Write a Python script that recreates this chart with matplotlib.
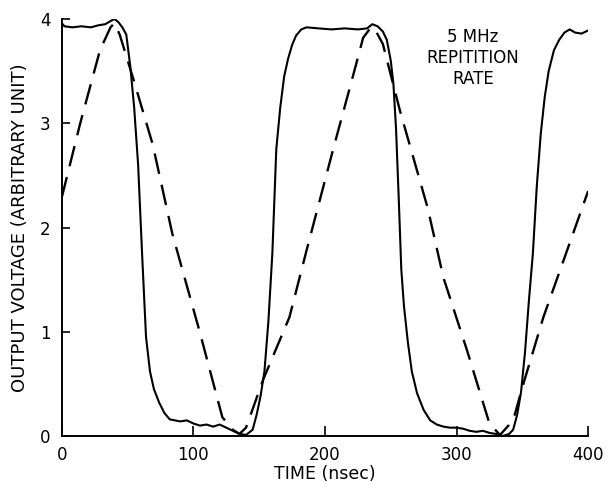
import matplotlib
matplotlib.use("Agg")
import matplotlib.pyplot as plt

plt.rcParams['lines.scale_dashes'] = False

# Solid curve (output voltage)
solid_t = [0, 2, 8, 15, 22, 28, 33, 37, 40, 43, 46, 49, 52, 55, 58, 61, 64, 67, 70, 74,
           78, 82, 86, 90, 95, 100, 105, 110, 115, 120, 125, 130, 135, 140, 145, 148, 151,
           154, 157, 160, 163, 166, 169, 172, 175, 178, 182, 186, 195, 205, 215, 225, 232,
           236, 240, 244, 247, 250, 252, 254, 256, 258, 260, 263, 266, 270, 275, 280, 285,
           290, 295, 300, 305, 310, 315, 320, 325, 330, 335, 340, 343, 346, 349, 352, 355,
           358, 361, 364, 367, 370, 374, 378, 382, 386, 390, 395, 400]
solid_v = [3.96, 3.93, 3.92, 3.93, 3.92, 3.94, 3.95, 3.98, 4.00, 3.97, 3.92, 3.85, 3.55,
           3.15, 2.60, 1.75, 0.95, 0.62, 0.45, 0.32, 0.22, 0.16, 0.15, 0.14, 0.15, 0.12,
           0.10, 0.11, 0.09, 0.11, 0.08, 0.05, 0.02, 0.01, 0.06, 0.20, 0.38, 0.62, 1.10,
           1.75, 2.75, 3.15, 3.45, 3.62, 3.75, 3.84, 3.90, 3.92, 3.91, 3.90, 3.91, 3.90,
           3.91, 3.95, 3.93, 3.88, 3.80, 3.60, 3.38, 2.95, 2.30, 1.60, 1.25, 0.90, 0.62,
           0.41, 0.25, 0.15, 0.11, 0.09, 0.08, 0.08, 0.07, 0.05, 0.04, 0.05, 0.03, 0.02,
           0.00, 0.02, 0.06, 0.20, 0.42, 0.80, 1.30, 1.75, 2.40, 2.90, 3.25, 3.50, 3.70,
           3.80, 3.87, 3.90, 3.87, 3.86, 3.89]

# Dashed curve
dash_t = [0, 14, 29, 37, 40, 44, 54, 69, 84, 105, 122, 130, 135, 140, 153, 173, 186, 206,
          221, 229, 235, 238, 244, 257, 278, 290, 308, 325, 333, 343, 351, 366, 384, 400]
dash_v = [2.29, 3.00, 3.70, 3.92, 3.96, 3.85, 3.44, 2.80, 1.94, 0.99, 0.18, 0.06, 0.02,
          0.08, 0.54, 1.14, 1.78, 2.74, 3.44, 3.82, 3.92, 3.90, 3.76, 3.12, 2.19, 1.52,
          0.82, 0.12, 0.01, 0.15, 0.51, 1.14, 1.78, 2.35]

x_ticks = [0, 100, 200, 300, 400]
y_ticks = [0, 1, 2, 3, 4]

fig = plt.figure(figsize=(6.12, 4.82), dpi=100)
ax = fig.add_axes([0.101, 0.0954, 0.860, 0.8652])

ax.plot(solid_t, solid_v, color='black', lw=1.5, solid_joinstyle='round')
ax.plot(dash_t, dash_v, color='black', lw=1.7, dashes=(15, 8), dash_capstyle='butt')

ax.set_xlim(0, 400)
ax.set_ylim(0, 4)
ax.set_xticks(x_ticks)
ax.set_yticks(y_ticks)
ax.spines['top'].set_visible(False)
ax.spines['right'].set_visible(False)
for s in ('left', 'bottom'):
    ax.spines[s].set_linewidth(1.4)
ax.tick_params(axis='both', direction='in', width=1.2, labelsize=12, colors='black')
ax.tick_params(axis='x', length=7, pad=7)
ax.tick_params(axis='y', length=6, pad=8)

ax.set_xlabel('TIME (nsec)', fontsize=12.5, labelpad=1)
ax.set_ylabel('OUTPUT VOLTAGE (ARBITRARY UNIT)', fontsize=13, labelpad=8)

ax.text(0.781, 0.978, '5 MHz\nREPITITION\nRATE', transform=ax.transAxes,
        ha='center', va='top', fontsize=12, linespacing=1.2)

fig.savefig('out.png', dpi=100)
